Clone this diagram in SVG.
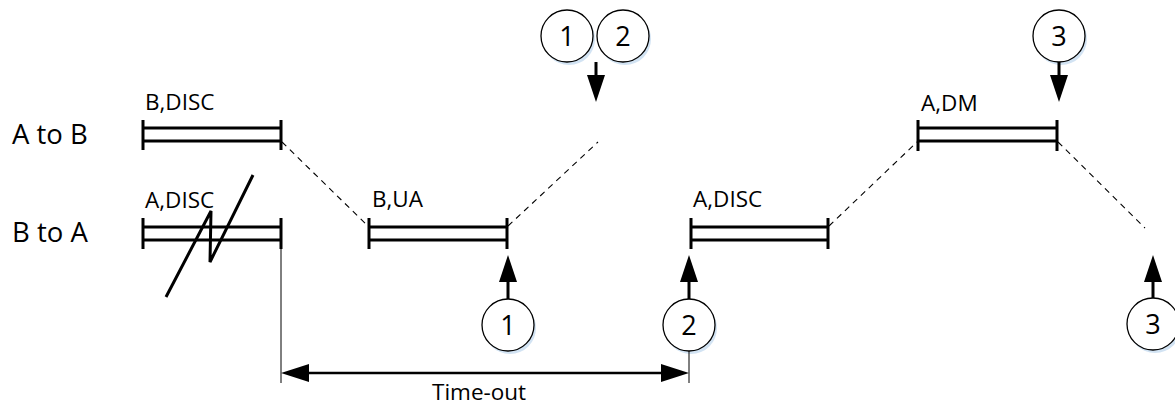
<svg xmlns="http://www.w3.org/2000/svg" width="1175" height="405" viewBox="0 0 1175 405">
<style>
  text { font-family: "Open Sans", "Liberation Sans", sans-serif; fill: #000; }
  .lbl { font-size: 22.5px; }
  .row { font-size: 27.5px; }
  .num { font-size: 27px; text-anchor: middle; }
  .frame { stroke: #000; stroke-width: 3; fill: none; }
  .circ { fill: #fff; stroke: #000; stroke-width: 1.3; }
  .shadow { fill: #d2e3f3; }
  .dash { stroke: #000; stroke-width: 1.1; stroke-dasharray: 6 5; fill: none; }
  .thin { stroke: #000; stroke-width: 1; fill: none; }
  .arr { stroke: #000; stroke-width: 3; fill: none; }
  .to { stroke: #000; stroke-width: 2.5; fill: none; }
</style>
<defs>
  <marker id="ah" markerUnits="userSpaceOnUse" markerWidth="28" markerHeight="18" refX="0" refY="9" orient="auto-start-reverse">
    <path d="M0,0 L27,9 L0,18 z" fill="#000"/>
  </marker>
  <marker id="ah2" markerUnits="userSpaceOnUse" markerWidth="29" markerHeight="18" refX="0" refY="9" orient="auto-start-reverse">
    <path d="M0,0 L28,9 L0,18 z" fill="#000"/>
  </marker>
</defs>

<g id="row-labels">
  <text class="row" x="12" y="144">A to B</text>
  <text class="row" x="12" y="242">B to A</text>
</g>

<g id="frame-b-disc">
  <path class="frame" d="M143,120 V150 M281,120 V150 M143,128 H281 M143,141 H281"/>
  <text class="lbl" x="145" y="110">B,DISC</text>
</g>

<g id="frame-a-disc-1">
  <path class="frame" d="M143,218 V249 M281,218 V249 M143,227 H281 M143,240 H281"/>
  <text class="lbl" x="145" y="208">A,DISC</text>
  <path class="frame" d="M166,297 L211,211 L210,262 L253,175"/>
</g>

<g id="frame-b-ua">
  <path class="frame" d="M369,218 V249 M507,218 V249 M369,227 H507 M369,240 H507"/>
  <text class="lbl" x="372" y="207">B,UA</text>
</g>

<g id="frame-a-disc-2">
  <path class="frame" d="M691,218 V249 M828,218 V249 M691,227 H828 M691,240 H828"/>
  <text class="lbl" x="693" y="207">A,DISC</text>
</g>

<g id="frame-a-dm">
  <path class="frame" d="M918,120 V151 M1057,120 V151 M918,128 H1057 M918,141 H1057"/>
  <text class="lbl" x="921" y="111">A,DM</text>
</g>

<g id="circle-1-top">
  <circle class="shadow" cx="569" cy="39" r="26"/>
  <circle class="circ" cx="567" cy="36" r="26"/>
  <text class="num" x="567" y="46">1</text>
</g>
<g id="circle-2-top">
  <circle class="shadow" cx="625" cy="39" r="26"/>
  <circle class="circ" cx="623" cy="36" r="26"/>
  <text class="num" x="623" y="46">2</text>
</g>
<g id="circle-3-top">
  <circle class="shadow" cx="1061" cy="39" r="26"/>
  <circle class="circ" cx="1059" cy="36" r="26"/>
  <text class="num" x="1059" y="46">3</text>
</g>
<g id="circle-1-bottom">
  <circle class="shadow" cx="510" cy="328" r="26"/>
  <circle class="circ" cx="508" cy="325" r="26"/>
  <text class="num" x="508" y="335">1</text>
</g>
<g id="circle-2-bottom">
  <circle class="shadow" cx="691" cy="328" r="26"/>
  <circle class="circ" cx="689" cy="325" r="26"/>
  <text class="num" x="689" y="335">2</text>
</g>
<g id="circle-3-bottom">
  <circle class="shadow" cx="1155" cy="327" r="26"/>
  <circle class="circ" cx="1153" cy="324" r="26"/>
  <text class="num" x="1153" y="334">3</text>
</g>

<g id="connectors">
  <line class="dash" x1="282" y1="142" x2="368" y2="226"/>
  <line class="dash" x1="508" y1="226" x2="598" y2="142"/>
  <line class="dash" x1="829" y1="226" x2="917" y2="142"/>
  <line class="dash" x1="1058" y1="142" x2="1145" y2="228"/>

  <line class="arr" x1="596" y1="62" x2="596" y2="75" marker-end="url(#ah)"/>
  <line class="arr" x1="1059" y1="62" x2="1059" y2="75" marker-end="url(#ah)"/>
  <line class="arr" x1="508" y1="299" x2="508" y2="282" marker-end="url(#ah)"/>
  <line class="arr" x1="689" y1="299" x2="689" y2="282" marker-end="url(#ah)"/>
  <line class="arr" x1="1153" y1="298" x2="1153" y2="282" marker-end="url(#ah)"/>

  <line class="thin" x1="281" y1="249" x2="281" y2="383"/>
  <line class="thin" x1="689" y1="351" x2="689" y2="383"/>
  <line class="to" x1="309" y1="373" x2="661" y2="373" marker-start="url(#ah2)" marker-end="url(#ah2)"/>
  <text class="lbl" x="432" y="400">Time-out</text>
</g>
</svg>
